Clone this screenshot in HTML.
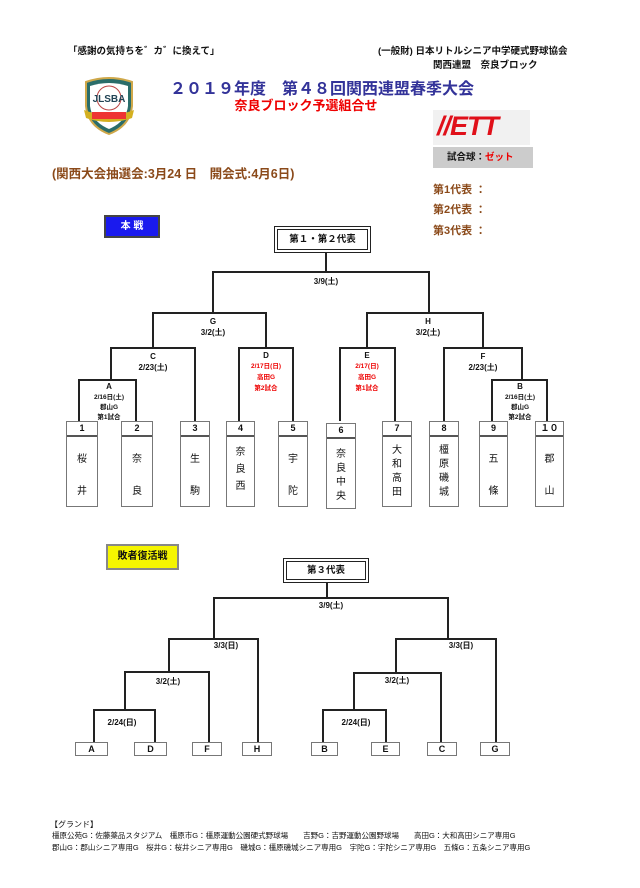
<!DOCTYPE html>
<html><head><meta charset="utf-8"><style>
body{margin:0;background:#fff;}
#p{position:relative;width:640px;height:888px;overflow:hidden;font-family:"Liberation Sans","Noto Sans CJK JP",sans-serif;font-weight:bold;color:#111;}
.t{position:absolute;white-space:nowrap;line-height:1;}
.c{transform:translateX(-50%);text-align:center;}
.box{position:absolute;border:1px solid #777;background:#fff;box-sizing:border-box;}
.nm{position:absolute;left:0;right:0;top:0;height:13px;border-bottom:2px solid #555;font-size:9px;text-align:center;line-height:13px;}
.vn{position:absolute;left:0;right:0;top:22px;font-size:10px;text-align:center;line-height:16px;font-weight:normal;}
.sb{position:absolute;border:1px solid #777;background:#fff;box-sizing:border-box;font-size:9px;text-align:center;line-height:12px;}
.r{color:#e00;}
</style></head><body><div id="p">
<svg width="640" height="888" style="position:absolute;left:0;top:0" fill="none" stroke="#222" stroke-width="2">
<path d="M326 253V272M213 313V272H429V313M153 348V313H266V348M367 348V313H483V348M111 380V348H195V421M239 421V348H293V421M340 421V348H395V421M444 421V348H522V380M79 421V380H136V421M492 421V380H547V421"/>
<path d="M327 583V598M214 639V598H448V639M169 672V639H258V742M125 710V672H209V742M94 742V710H155V742M396 673V639H496V742M354 710V673H441V742M323 742V710H386V742"/>
</svg>
<div class="t" style="left:68px;top:47px;font-size:9.5px">「感謝の気持ちを゛カ゛に換えて」</div>
<div class="t" style="left:378px;top:47px;font-size:9.5px">(一般財) 日本リトルシニア中学硬式野球協会</div>
<div class="t" style="left:433px;top:61px;font-size:9.5px">関西連盟　奈良ブロック</div>
<svg style="position:absolute;left:80px;top:76px" width="58" height="60"><path d="M6 6Q29 -2 52 6V30Q50 50 29 58Q8 50 6 30Z" fill="#2a6d6a" stroke="#cfa84a" stroke-width="2"/><path d="M10 10Q29 4 48 10V30Q46 46 29 53Q12 46 10 30Z" fill="#fff"/><circle cx="29" cy="22" r="12" fill="#fff" stroke="#b44" stroke-width="1"/><text x="29" y="26" font-size="10" text-anchor="middle" fill="#245" font-family="Liberation Sans">JLSBA</text><path d="M4 34Q29 44 54 34L52 42Q29 50 6 42Z" fill="#d4b020"/><rect x="12" y="36" width="34" height="7" fill="#e33"/></svg>
<div class="t" style="left:170px;top:82px;font-size:16px;color:#333399">２０１９年度　第４８回関西連盟春季大会</div>
<div class="t c" style="left:306px;top:99px;font-size:13px;color:#e00">奈良ブロック予選組合せ</div>
<div style="position:absolute;left:433px;top:110px;width:97px;height:35px;background:#f1f1f1"></div>
<div class="t" style="left:437px;top:113px;font-size:27px;color:#e0101a;font-style:italic;letter-spacing:-1px;font-weight:900">//ETT</div>
<div style="position:absolute;left:433px;top:147px;width:100px;height:21px;background:#ccc"></div>
<div class="t" style="left:447px;top:153px;font-size:9.5px">試合球：<span class="r">ゼット</span></div>
<div class="t" style="left:52px;top:168px;font-size:12.5px;color:#8b4a1a">(関西大会抽選会:3月24 日　開会式:4月6日)</div>
<div class="t" style="left:433px;top:185px;font-size:11px;color:#8b4a1a">第1代表 ：</div>
<div class="t" style="left:433px;top:205px;font-size:11px;color:#8b4a1a">第2代表 ：</div>
<div class="t" style="left:433px;top:226px;font-size:11px;color:#8b4a1a">第3代表 ：</div>
<div style="position:absolute;left:104px;top:215px;width:56px;height:23px;background:#1a1aee;border:2px solid #444;box-sizing:border-box;color:#fff;font-size:10px;text-align:center;line-height:19px">本 戦</div>
<div style="position:absolute;left:274px;top:226px;width:97px;height:27px;border:3px double #222;border-width:4px;box-sizing:border-box;font-size:9.5px;text-align:center;line-height:19px">第１・第２代表</div>
<div class="t c" style="left:326px;top:278px;font-size:8px">3/9(土)</div>
<div class="t c" style="left:213px;top:316px;font-size:8px;line-height:11px">G<br>3/2(土)</div>
<div class="t c" style="left:428px;top:316px;font-size:8px;line-height:11px">H<br>3/2(土)</div>
<div class="t c" style="left:153px;top:351px;font-size:8px;line-height:11px">C<br>2/23(土)</div>
<div class="t c" style="left:483px;top:351px;font-size:8px;line-height:11px">F<br>2/23(土)</div>
<div class="t c" style="left:266px;top:351px;font-size:8px;line-height:10px">D<br><span class="r" style="font-size:6.5px">2/17日(日)<br>高田G<br>第2試合</span></div>
<div class="t c" style="left:367px;top:351px;font-size:8px;line-height:10px">E<br><span class="r" style="font-size:6.5px">2/17(日)<br>高田G<br>第1試合</span></div>
<div class="t c" style="left:109px;top:382px;font-size:6.5px;line-height:10px"><span style="font-size:8px">A</span><br>2/16日(土)<br>郡山G<br>第1試合</div>
<div class="t c" style="left:520px;top:382px;font-size:6.5px;line-height:10px"><span style="font-size:8px">B</span><br>2/16日(土)<br>郡山G<br>第2試合</div>
<div class="box" style="left:66px;top:421px;width:32px;height:86px"><div class="nm">1</div><div class="vn" style="line-height:32px">桜<br>井</div></div>
<div class="box" style="left:121px;top:421px;width:32px;height:86px"><div class="nm">2</div><div class="vn" style="line-height:32px">奈<br>良</div></div>
<div class="box" style="left:180px;top:421px;width:30px;height:86px"><div class="nm">3</div><div class="vn" style="line-height:32px">生<br>駒</div></div>
<div class="box" style="left:226px;top:421px;width:29px;height:86px"><div class="nm">4</div><div class="vn" style="line-height:17px">奈<br>良<br>西</div></div>
<div class="box" style="left:278px;top:421px;width:30px;height:86px"><div class="nm">5</div><div class="vn" style="line-height:32px">宇<br>陀</div></div>
<div class="box" style="left:326px;top:423px;width:30px;height:86px"><div class="nm">6</div><div class="vn" style="line-height:14px;top:24px">奈<br>良<br>中<br>央</div></div>
<div class="box" style="left:382px;top:421px;width:30px;height:86px"><div class="nm">7</div><div class="vn" style="line-height:14px">大<br>和<br>高<br>田</div></div>
<div class="box" style="left:429px;top:421px;width:30px;height:86px"><div class="nm">8</div><div class="vn" style="line-height:14px">橿<br>原<br>磯<br>城</div></div>
<div class="box" style="left:479px;top:421px;width:29px;height:86px"><div class="nm">9</div><div class="vn" style="line-height:32px">五<br>條</div></div>
<div class="box" style="left:535px;top:421px;width:29px;height:86px"><div class="nm">１０</div><div class="vn" style="line-height:32px">郡<br>山</div></div>
<div style="position:absolute;left:106px;top:544px;width:73px;height:26px;background:#f5f500;border:2px solid #888;box-sizing:border-box;font-size:10px;text-align:center;line-height:22px">敗者復活戦</div>
<div style="position:absolute;left:283px;top:558px;width:86px;height:25px;border:4px double #222;box-sizing:border-box;font-size:9.5px;text-align:center;line-height:17px">第３代表</div>
<div class="t c" style="left:331px;top:602px;font-size:8px">3/9(土)</div>
<div class="t c" style="left:226px;top:642px;font-size:8px">3/3(日)</div>
<div class="t c" style="left:461px;top:642px;font-size:8px">3/3(日)</div>
<div class="t c" style="left:168px;top:678px;font-size:8px">3/2(土)</div>
<div class="t c" style="left:397px;top:677px;font-size:8px">3/2(土)</div>
<div class="t c" style="left:122px;top:719px;font-size:8px">2/24(日)</div>
<div class="t c" style="left:356px;top:719px;font-size:8px">2/24(日)</div>
<div class="sb" style="left:75px;top:742px;width:33px;height:14px">A</div>
<div class="sb" style="left:134px;top:742px;width:33px;height:14px">D</div>
<div class="sb" style="left:192px;top:742px;width:30px;height:14px">F</div>
<div class="sb" style="left:242px;top:742px;width:30px;height:14px">H</div>
<div class="sb" style="left:311px;top:742px;width:27px;height:14px">B</div>
<div class="sb" style="left:371px;top:742px;width:29px;height:14px">E</div>
<div class="sb" style="left:427px;top:742px;width:30px;height:14px">C</div>
<div class="sb" style="left:480px;top:742px;width:30px;height:14px">G</div>
<div class="t" style="left:50px;top:821px;font-size:8px;font-weight:normal">【グランド】</div>
<div class="t" style="left:52px;top:832px;font-size:7.5px;font-weight:normal">橿原公苑G：佐藤薬品スタジアム　橿原市G：橿原運動公園硬式野球場　　吉野G：吉野運動公園野球場　　高田G：大和高田シニア専用G</div>
<div class="t" style="left:52px;top:844px;font-size:7.5px;font-weight:normal">郡山G：郡山シニア専用G　桜井G：桜井シニア専用G　磯城G：橿原磯城シニア専用G　宇陀G：宇陀シニア専用G　五條G：五条シニア専用G</div>
</div></body></html>
